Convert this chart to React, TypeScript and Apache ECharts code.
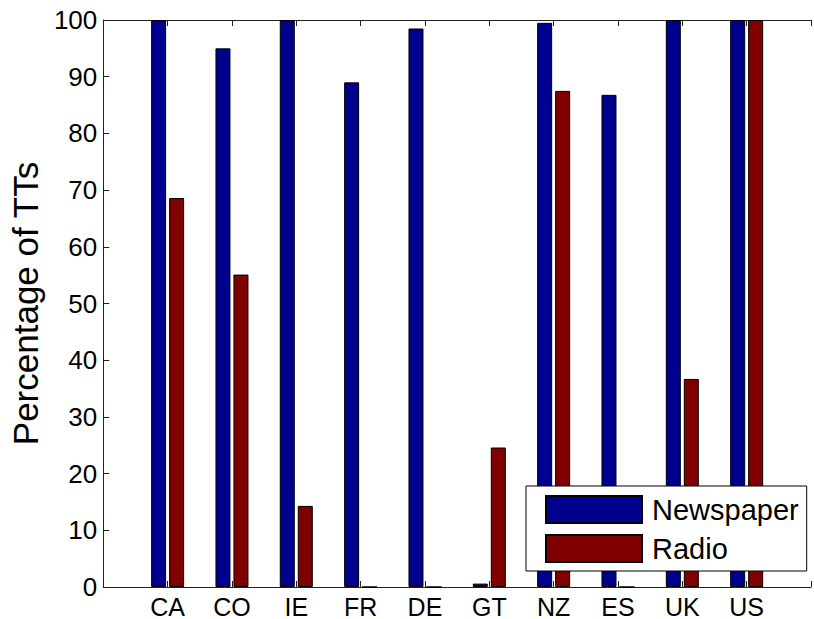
import React, { useEffect, useRef } from "react";
import * as echarts from "echarts";

const countries = ["CA", "CO", "IE", "FR", "DE", "GT", "NZ", "ES", "UK", "US"];
const newspaper = [100, 95, 100, 89, 98.5, 0.6, 99.5, 86.8, 100, 100];
const radio = [68.6, 55.1, 14.3, 0, 0, 24.6, 87.5, 0, 36.7, 100];
const yTicks = [0, 10, 20, 30, 40, 50, 60, 70, 80, 90, 100];

export default function App() {
  const ref = useRef<HTMLDivElement>(null);
  useEffect(() => {
    if (!ref.current) return;
    const chart = echarts.init(ref.current, null, { renderer: "svg" });
    const axisData = ["", ...countries, ""];
    const pad = (arr: number[]) => ["-", ...arr, "-"];
    const font = "'Liberation Sans', Arial, Helvetica, sans-serif";
    const lineColor = "#222";
    chart.setOption({
      animation: false,
      backgroundColor: "#fff",
      textStyle: { fontFamily: font, color: "#000" },
      grid: { left: 101, top: 20, width: 722, height: 568, containLabel: false },
      legend: {
        orient: "vertical",
        left: 526,
        top: 486,
        backgroundColor: "#fff",
        borderColor: "#000",
        borderWidth: 1,
        padding: [9, 8, 8, 19],
        itemWidth: 96,
        itemHeight: 27,
        itemGap: 10,
        icon: "rect",
        selectedMode: false,
        textStyle: { fontSize: 29, color: "#000", fontFamily: font, padding: [0, 0, 0, 5] },
        data: ["Newspaper", "Radio"],
      },
      xAxis: [
        {
          type: "category",
          data: axisData,
          boundaryGap: false,
          axisLine: { show: true, lineStyle: { color: lineColor, width: 1 } },
          axisTick: { show: true, inside: true, length: 6, lineStyle: { color: lineColor } },
          axisLabel: { fontSize: 25, color: "#000", margin: 7, fontFamily: font },
          splitLine: { show: false },
        },
        {
          type: "category",
          data: axisData,
          position: "top",
          boundaryGap: false,
          axisLine: { show: true, lineStyle: { color: lineColor, width: 1 } },
          axisTick: { show: true, inside: true, length: 6, lineStyle: { color: lineColor } },
          axisLabel: { show: false },
          splitLine: { show: false },
        },
      ],
      yAxis: {
        type: "value",
        min: 0,
        max: 100,
        interval: 10,
        name: "Percentage of TTs",
        nameLocation: "middle",
        nameGap: 60,
        nameTextStyle: { fontSize: 35, color: "#000", fontFamily: font },
        axisLine: { show: true, lineStyle: { color: lineColor, width: 1 } },
        axisTick: { show: true, inside: true, length: 6, lineStyle: { color: lineColor } },
        axisLabel: {
          fontSize: 26,
          color: "#000",
          margin: 6,
          fontFamily: font,
          formatter: (v: number) => (yTicks.includes(v) ? String(v) : ""),
        },
        splitLine: { show: false },
      },
      series: [
        {
          name: "Newspaper",
          type: "bar",
          xAxisIndex: 0,
          data: pad(newspaper),
          barWidth: 15,
          barGap: "20%",
          itemStyle: { color: "#00008F", borderColor: "#000", borderWidth: 1 },
        },
        {
          name: "Radio",
          type: "bar",
          xAxisIndex: 0,
          data: pad(radio),
          barWidth: 15,
          barGap: "20%",
          itemStyle: { color: "#800000", borderColor: "#000", borderWidth: 1 },
        },
      ],
    });
    return () => chart.dispose();
  }, []);
  return (
    <div
      ref={ref}
      style={{ position: "fixed", left: 0, top: 0, width: 814, height: 619, background: "#fff" }}
    />
  );
}
